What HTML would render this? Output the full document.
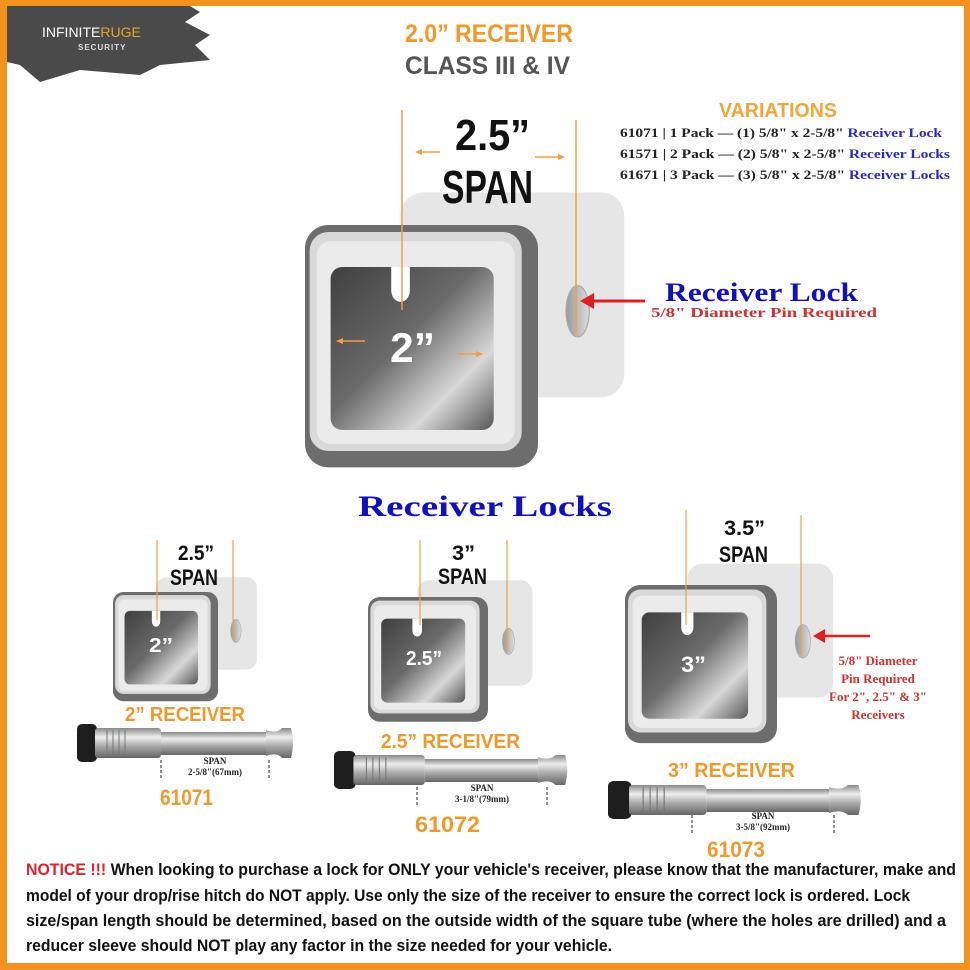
<!DOCTYPE html>
<html><head><meta charset="utf-8"><style>
html,body{margin:0;padding:0;background:#fff}
svg{display:block}
</style></head><body>
<svg width="970" height="970" viewBox="0 0 970 970" xmlns="http://www.w3.org/2000/svg">
<defs>
<linearGradient id="win" x1="0" y1="0" x2="1" y2="1">
<stop offset="0" stop-color="#3f3f3f"/><stop offset="0.45" stop-color="#6a6a6a"/><stop offset="0.75" stop-color="#d8d8d8"/><stop offset="1" stop-color="#555"/>
</linearGradient>
<linearGradient id="shaft" x1="0" y1="0" x2="0" y2="1">
<stop offset="0" stop-color="#888"/><stop offset="0.3" stop-color="#eee"/><stop offset="0.6" stop-color="#aaa"/><stop offset="1" stop-color="#666"/>
</linearGradient>
<linearGradient id="hole" x1="0" y1="0" x2="1" y2="0">
<stop offset="0" stop-color="#999"/><stop offset="1" stop-color="#ddd"/>
</linearGradient>
<g id="rcv">
<rect x="41" y="-14" width="96" height="88" rx="10" fill="#e6e6e6"/>
<ellipse cx="117" cy="37" rx="5" ry="11" fill="url(#hole)" stroke="#aaa" stroke-width="0.5"/>
<rect x="0" y="0" width="100" height="104" rx="10" fill="#6d6d6d"/>
<rect x="2" y="3" width="91" height="94" rx="8" fill="#d9d9d9"/>
<rect x="5" y="7" width="85" height="87" rx="6" fill="#ebebeb"/>
<rect x="11" y="18" width="70" height="70" rx="5" fill="url(#win)"/>
<path d="M37 18 L45 18 L45 28 A4 5 0 0 1 37 28 Z" fill="#fff"/>
</g>
<g id="pin">
<rect x="0" y="0" width="20" height="38" rx="5" fill="#1e1e1e"/>
<rect x="18" y="4" width="66" height="30" rx="3" fill="url(#shaft)"/>
<line x1="30" y1="6" x2="30" y2="32" stroke="#777"/><line x1="36" y1="6" x2="36" y2="32" stroke="#777"/><line x1="42" y1="6" x2="42" y2="32" stroke="#777"/><line x1="48" y1="6" x2="48" y2="32" stroke="#777"/>
<rect x="84" y="8" width="105" height="23" fill="url(#shaft)"/>
<path d="M189 6 Q200 10 205 4 L214 4 Q218 19 214 34 L205 34 Q200 28 189 32 Z" fill="url(#shaft)"/>
</g>
</defs>
<rect x="0" y="0" width="970" height="970" fill="#f3921f"/>
<rect x="7" y="6" width="957" height="957" fill="#fff"/>
<path d="M7 6 L190 6 L200 12 L185 22 L210 35 L195 45 L210 60 L160 65 L140 75 L80 70 L40 82 L20 65 L7 62 Z" fill="#4a4a4a"/>
<text x="42" y="37" font-family="Liberation Sans,sans-serif" font-size="14" fill="#fff">INFINITE<tspan fill="#e5a42b">RUGE</tspan></text>
<text x="78" y="50" font-family="Liberation Sans,sans-serif" font-size="8" font-weight="bold" fill="#ddd" letter-spacing="1">SECURITY</text>

<g font-family="'Liberation Sans',sans-serif" font-weight="bold" lengthAdjust="spacingAndGlyphs">
<text x="405" y="42" font-size="25" fill="#f0982a" textLength="168" lengthAdjust="spacingAndGlyphs">2.0” RECEIVER</text>
<text x="405" y="74" font-size="25" fill="#555" textLength="165" lengthAdjust="spacingAndGlyphs">CLASS III &amp; IV</text>
<text x="719" y="117" font-size="20" fill="#f0a63a" textLength="118" lengthAdjust="spacingAndGlyphs">VARIATIONS</text>
</g>
<g font-family="'Liberation Serif',serif" font-weight="bold" font-size="13" fill="#222">
<text x="620" y="137" textLength="322" lengthAdjust="spacingAndGlyphs">61071 | 1 Pack — (1) 5/8" x 2-5/8" <tspan fill="#2a2ac0">Receiver Lock</tspan></text>
<text x="620" y="158" textLength="330" lengthAdjust="spacingAndGlyphs">61571 | 2 Pack — (2) 5/8" x 2-5/8" <tspan fill="#2a2ac0">Receiver Locks</tspan></text>
<text x="620" y="179" textLength="330" lengthAdjust="spacingAndGlyphs">61671 | 3 Pack — (3) 5/8" x 2-5/8" <tspan fill="#2a2ac0">Receiver Locks</tspan></text>
</g>

<use href="#rcv" transform="translate(305,225) scale(2.33)"/>
<g stroke="#f0a040" stroke-width="1.5">
<line x1="402" y1="110" x2="402" y2="310"/><line x1="576" y1="120" x2="576" y2="335"/>
<line x1="418" y1="152" x2="440" y2="152"/><line x1="535" y1="157" x2="560" y2="157"/>
<line x1="340" y1="341" x2="365" y2="341"/><line x1="458" y1="354" x2="478" y2="354"/>
</g>
<g fill="#f0a040"><path d="M415 152 l7 -3 v6z"/><path d="M565 157 l-7 -3 v6z"/><path d="M336 341 l7 -3 v6z"/><path d="M483 354 l-7 -3 v6z"/></g>
<g font-family="'Liberation Sans',sans-serif" font-weight="bold">
<text x="455" y="150" font-size="44" fill="#111" textLength="75" lengthAdjust="spacingAndGlyphs">2.5”</text>
<text x="442" y="203" font-size="46" fill="#111" textLength="91" lengthAdjust="spacingAndGlyphs">SPAN</text>
<text x="390" y="362" font-size="42" fill="#fff" textLength="45" lengthAdjust="spacingAndGlyphs">2”</text>
</g>
<line x1="585" y1="301" x2="645" y2="301" stroke="#e02020" stroke-width="3"/>
<path d="M580 301 l14 -8 v16z" fill="#e02020"/>
<text x="665" y="301" font-family="'Liberation Serif',serif" font-weight="bold" font-size="26" fill="#1010c0" textLength="193" lengthAdjust="spacingAndGlyphs">Receiver Lock</text>
<text x="651" y="317" font-family="'Liberation Serif',serif" font-weight="bold" font-size="14" fill="#d03030" textLength="226" lengthAdjust="spacingAndGlyphs">5/8" Diameter Pin Required</text>

<text x="358" y="516" font-family="'Liberation Serif',serif" font-weight="bold" font-size="30" fill="#1010c0" textLength="254" lengthAdjust="spacingAndGlyphs">Receiver Locks</text>

<use href="#rcv" transform="translate(113,592) scale(1.05)"/>
<use href="#rcv" transform="translate(368,597) scale(1.2)"/>
<use href="#rcv" transform="translate(625,585) scale(1.52)"/>
<g stroke="#f0a040" stroke-width="1.2">
<line x1="157" y1="540" x2="157" y2="620"/><line x1="233" y1="540" x2="233" y2="640"/>
<line x1="420" y1="540" x2="420" y2="625"/><line x1="507" y1="540" x2="507" y2="650"/>
<line x1="686" y1="510" x2="686" y2="625"/><line x1="801" y1="515" x2="801" y2="655"/>
</g>
<g font-family="'Liberation Sans',sans-serif" font-weight="bold" fill="#111">
<text x="178" y="560" font-size="21" textLength="36" lengthAdjust="spacingAndGlyphs">2.5”</text><text x="170" y="585" font-size="22" textLength="48" lengthAdjust="spacingAndGlyphs">SPAN</text>
<text x="452" y="560" font-size="21" textLength="23" lengthAdjust="spacingAndGlyphs">3”</text><text x="438" y="584" font-size="22" textLength="49" lengthAdjust="spacingAndGlyphs">SPAN</text>
<text x="724" y="535" font-size="21" textLength="41" lengthAdjust="spacingAndGlyphs">3.5”</text><text x="719" y="562" font-size="22" textLength="49" lengthAdjust="spacingAndGlyphs">SPAN</text>
<text x="149" y="652" font-size="20" fill="#fff" textLength="24" lengthAdjust="spacingAndGlyphs">2”</text>
<text x="406" y="665" font-size="20" fill="#fff" textLength="36" lengthAdjust="spacingAndGlyphs">2.5”</text>
<text x="681" y="672" font-size="22" fill="#fff" textLength="25" lengthAdjust="spacingAndGlyphs">3”</text>
</g>
<line x1="822" y1="636" x2="870" y2="636" stroke="#e02020" stroke-width="2.5"/>
<path d="M813 636 l12 -7 v14z" fill="#e02020"/>
<g font-family="'Liberation Serif',serif" font-weight="bold" font-size="13" fill="#d03030" text-anchor="middle">
<text x="878" y="665">5/8" Diameter</text><text x="878" y="683">Pin Required</text><text x="878" y="701">For 2", 2.5" &amp; 3"</text><text x="878" y="719">Receivers</text>
</g>

<use href="#pin" transform="translate(77,724)"/>
<use href="#pin" transform="translate(334,751) scale(1.08,1.0)"/>
<use href="#pin" transform="translate(608,781) scale(1.17,1.0)"/>
<g font-family="'Liberation Sans',sans-serif" font-weight="bold" fill="#f0982a">
<text x="125" y="721" font-size="20" textLength="120" lengthAdjust="spacingAndGlyphs">2” RECEIVER</text>
<text x="160" y="805" font-size="22" textLength="53" lengthAdjust="spacingAndGlyphs">61071</text>
<text x="381" y="748" font-size="20" textLength="139" lengthAdjust="spacingAndGlyphs">2.5” RECEIVER</text>
<text x="415" y="832" font-size="22" textLength="65" lengthAdjust="spacingAndGlyphs">61072</text>
<text x="668" y="777" font-size="20" textLength="127" lengthAdjust="spacingAndGlyphs">3” RECEIVER</text>
<text x="707" y="857" font-size="22" textLength="58" lengthAdjust="spacingAndGlyphs">61073</text>
</g>
<g stroke="#222" stroke-width="1" stroke-dasharray="3,2">
<line x1="161" y1="760" x2="161" y2="778"/><line x1="269" y1="760" x2="269" y2="778"/>
<line x1="417" y1="787" x2="417" y2="805"/><line x1="547" y1="787" x2="547" y2="805"/>
<line x1="692" y1="815" x2="692" y2="833"/><line x1="834" y1="815" x2="834" y2="833"/>
</g>
<g font-family="'Liberation Serif',serif" font-weight="bold" text-anchor="middle" fill="#222" font-size="9">
<text x="215" y="764">SPAN</text><text x="215" y="775">2-5/8"(67mm)</text>
<text x="482" y="791">SPAN</text><text x="482" y="802">3-1/8"(79mm)</text>
<text x="763" y="819">SPAN</text><text x="763" y="830">3-5/8"(92mm)</text>
</g>

<g font-family="'Liberation Sans',sans-serif" font-weight="bold" font-size="17" fill="#111">
<text x="26" y="875" textLength="930" lengthAdjust="spacingAndGlyphs"><tspan fill="#e0202a">NOTICE !!!</tspan>  When looking to purchase a lock for ONLY your vehicle's receiver, please know that the manufacturer, make and</text>
<text x="26" y="901" textLength="884" lengthAdjust="spacingAndGlyphs">model of your drop/rise hitch do NOT apply. Use only the size of the receiver to ensure the correct lock is ordered. Lock</text>
<text x="26" y="926" textLength="920" lengthAdjust="spacingAndGlyphs">size/span length should be determined, based on the outside width of the square tube (where the holes are drilled) and a</text>
<text x="26" y="951" textLength="586" lengthAdjust="spacingAndGlyphs">reducer sleeve should NOT play any factor in the size needed for your vehicle.</text>
</g>
</svg>
</body></html>
